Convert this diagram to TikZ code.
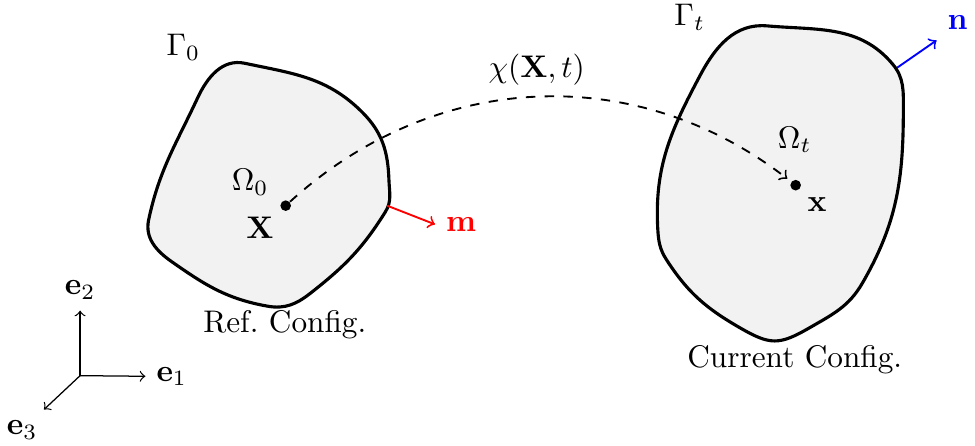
\documentclass[tikz,border=0pt]{standalone}
\usepackage{amsmath}
\begin{document}
\begin{tikzpicture}[
                body/.style={
                    draw=black,
                    fill=black!5,
                    line width=1pt
                },
                dot/.style={
                    circle,
                    fill=black,
                    inner sep=0pt,
                    minimum size=3.4pt
                },
                axis/.style={
                    ->,
                    thin,
                    >=to
                },
                motion/.style={
                    ->,
                    semithick,
                    dashed,
                    >=to
                },
                normal/.style={
                    ->,
                    semithick,
                    >=to
                }
            ]
                \useasboundingbox (0,0) rectangle (10.955,5.011);

                \draw[body] (2.75,4.30) to[out=-12,in=135] (4.07,3.75)
                    to[out=-45,in=92] (4.37,2.99) to[out=-88,in=58] (4.33,2.63)
                    to[out=-122,in=38] (3.48,1.71) to[out=-142,in=-10] (3.01,1.57)
                    to[out=170,in=-35] (1.93,2.07) to[out=145,in=-102] (1.67,2.54)
                    to[out=78,in=-115] (2.22,3.91) to[out=65,in=168] cycle;
                \draw[body] (8.62,4.72) to[out=-5,in=130] (10.03,4.29)
                    to[out=-50,in=90] (10.15,3.78) to[out=-90,in=60] (9.69,1.83)
                    to[out=-120,in=30] (9.10,1.33)
                    to[out=-150,in=-30,looseness=1.3] (8.31,1.33)
                    to[out=150,in=-57] (7.49,2.09)
                    to[out=123,in=-87] (7.39,2.45) to[out=93,in=-118] (7.87,4.17)
                    to[out=62,in=175] cycle;

                \node[dot] (X) at (3.21,2.70) {};
                \node[dot] (x) at (8.94,2.93) {};

                \node (Gamma0) at (2.06,4.48) {$\Gamma_0$};
                \node (Omega0) at (2.81,2.96) {$\Omega_0$};
                \node (Xlab) at (2.92,2.45) {$\mathbf{X}$};
                \node (Gammat) at (7.75,4.82) {$\Gamma_t$};
                \node (Omegat) at (8.93,3.44) {$\Omega_t$};
                \node (xlab) at (9.18,2.71) {$\mathbf{x}$};
                \node (ref) at (3.20,1.36) {Ref.\ Config.};
                \node (cur) at (8.93,0.97) {Current Config.};

                \draw[motion, shorten >=1.5pt] (X) to[bend left=40]
                    node[midway, above] (chi) {$\chi(\mathbf{X},t)$} (x);

                \coordinate (m0) at (4.35,2.70);
                \node[text=red] (mlab) at (5.18,2.49) {$\mathbf{m}$};
                \draw[normal, red] (m0) -- (mlab.west);

                \coordinate (n0) at (10.08,4.25);
                \node[text=blue] (nlab) at (10.76,4.76) {$\mathbf{n}$};
                \draw[normal, blue] (n0) -- (nlab.south west);

                \coordinate (O) at (0.90,0.79);
                \node (e1) at (1.93,0.78) {$\mathbf{e}_1$};
                \node (e2) at (0.90,1.75) {$\mathbf{e}_2$};
                \node (e3) at (0.25,0.18) {$\mathbf{e}_3$};
                \draw[axis] (O) -- (e1);
                \draw[axis] (O) -- (e2);
                \draw[axis] (O) -- (e3);
        \end{tikzpicture}
\end{document}
